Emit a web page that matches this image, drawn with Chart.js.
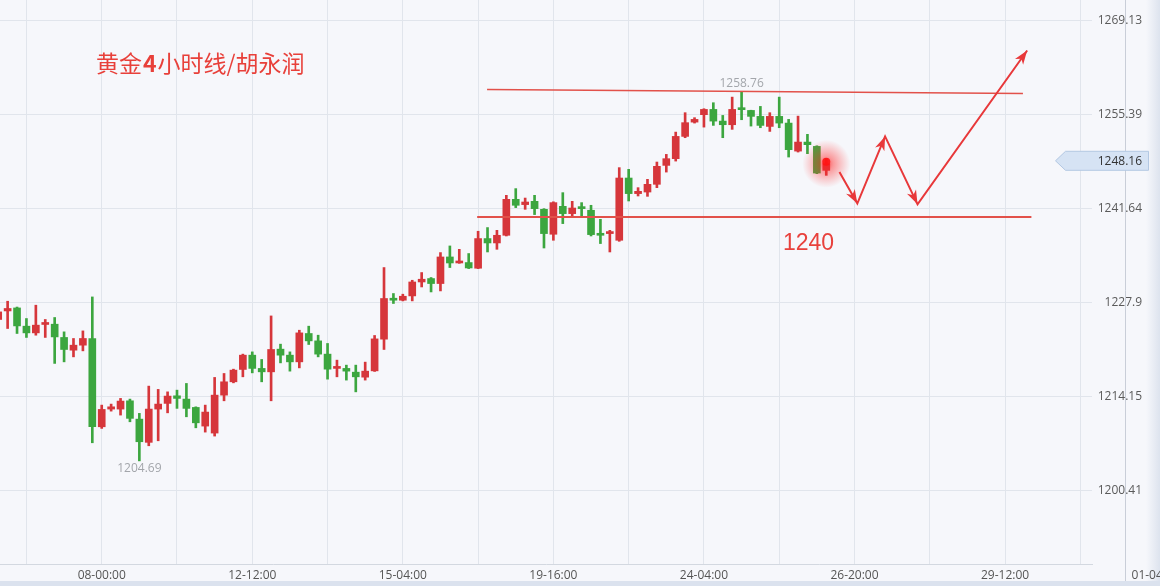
<!DOCTYPE html>
<html><head><meta charset="utf-8">
<script src="https://cdn.jsdelivr.net/npm/chart.js@4.4.1/dist/chart.umd.min.js"></script>
<style>html,body{margin:0;padding:0;background:#f6f7fb;overflow:hidden}canvas{display:block}</style>
</head><body>
<canvas id="c" width="1160" height="586"></canvas>
<script>
// ---- data (4H gold candles) ----
const openP  = [1225.38,1226.63,1227.07,1224.40,1223.42,1224.65,1224.69,1222.75,1220.89,1221.62,
                1222.60,1209.68,1212.27,1212.27,1213.48,1210.80,1207.40,1212.27,1213.10,1214.21,
                1213.73,1212.51,1209.78,1208.76,1214.31,1216.26,1218.07,1220.16,1218.22,1217.72,
                1221.04,1220.16,1219.18,1223.33,1222.25,1220.31,1218.22,1218.22,1217.67,1216.94,
                1217.86,1222.50,1228.49,1228.20,1228.83,1230.87,1231.37,1230.64,1234.53,1233.65,
                1233.71,1232.88,1237.22,1236.58,1237.70,1242.96,1242.19,1242.67,1241.50,1237.85,
                1241.94,1240.87,1241.84,1241.36,1237.95,1237.95,1236.97,1246.08,1243.80,1244.03,
                1245.16,1247.93,1248.91,1252.17,1254.26,1255.35,1256.12,1254.41,1253.88,1256.31,
                1255.97,1255.10,1253.63,1255.10,1254.12,1250.02,1251.34,1250.71,1247.20];
const highP  = [1227.32,1228.05,1227.20,1225.52,1227.47,1225.38,1225.67,1223.57,1222.60,1223.71,
                1228.68,1212.85,1213.00,1213.83,1213.73,1211.64,1215.63,1215.15,1214.79,1215.04,
                1216.02,1212.60,1212.85,1216.90,1217.48,1218.11,1220.31,1220.64,1219.53,1225.90,
                1221.77,1220.64,1223.81,1224.40,1223.08,1221.87,1219.43,1218.70,1218.70,1219.14,
                1223.04,1232.98,1229.18,1229.08,1231.12,1232.25,1231.52,1235.17,1236.14,1235.65,
                1235.03,1238.29,1238.83,1238.43,1243.55,1244.53,1243.15,1243.55,1241.60,1242.60,
                1243.94,1242.67,1242.48,1242.09,1240.04,1238.43,1247.60,1247.35,1244.67,1245.89,
                1248.42,1249.54,1252.80,1255.64,1254.91,1256.22,1257.10,1255.24,1257.92,1258.76,
                1256.00,1256.56,1255.64,1257.92,1254.66,1255.14,1252.47,1250.80,1248.90];
const lowP   = [1224.55,1224.06,1223.33,1222.75,1223.08,1222.75,1218.95,1219.18,1219.91,1220.79,
                1207.34,1209.44,1211.97,1211.39,1210.41,1204.69,1206.90,1207.63,1211.72,1212.37,
                1211.14,1209.53,1208.90,1208.32,1213.48,1216.11,1216.99,1217.57,1216.26,1213.48,
                1219.03,1217.82,1218.30,1221.72,1219.91,1216.65,1216.99,1216.51,1214.79,1216.51,
                1217.78,1220.99,1227.72,1228.10,1228.10,1230.14,1229.41,1229.56,1232.98,1233.60,
                1232.83,1232.83,1235.26,1235.65,1237.60,1241.75,1241.50,1240.73,1235.84,1236.97,
                1239.41,1240.48,1240.38,1237.60,1236.49,1235.26,1236.82,1242.72,1243.45,1243.40,
                1244.67,1246.95,1248.56,1251.98,1254.12,1253.53,1253.78,1251.98,1253.20,1254.61,
                1253.68,1253.44,1252.90,1253.44,1249.15,1249.88,1249.64,1246.72,1246.47];
const closeP = [1226.49,1226.99,1224.44,1223.42,1224.55,1224.88,1222.83,1220.99,1221.62,1222.60,
                1209.68,1212.22,1212.60,1213.44,1210.91,1207.49,1212.27,1213.00,1214.17,1213.83,
                1212.37,1210.26,1211.83,1214.31,1216.26,1217.97,1220.16,1218.22,1217.72,1220.99,
                1220.16,1219.18,1223.42,1222.25,1220.31,1218.11,1218.45,1217.82,1216.99,1217.82,
                1222.54,1228.45,1228.20,1228.78,1230.87,1231.27,1230.64,1234.53,1233.65,1233.90,
                1232.92,1237.22,1236.58,1237.70,1242.96,1242.09,1242.57,1241.60,1237.95,1242.48,
                1240.87,1241.69,1241.60,1237.80,1237.70,1238.18,1246.08,1243.80,1244.13,1245.16,
                1247.79,1248.91,1252.17,1254.18,1254.66,1256.12,1254.41,1253.88,1256.12,1256.08,
                1255.10,1253.78,1255.10,1254.12,1250.23,1251.34,1250.96,1246.81,1248.16];

// axis ticks
const gridIdx      = [3,11,19,27,35,43,51,59,67,75,83,91,99,107,115];
const labelIdx     = [11,27,43,59,75,91,107,123];
const xTickLabels  = ['08-00:00','12-12:00','15-04:00','19-16:00','24-04:00','26-20:00','29-12:00','01-04:00'];
const yTicks       = [1200.41,1214.15,1227.9,1241.64,1255.39,1269.13];

// drawn analysis (candle index, price)
const resX = [51.95,108.9],  resY = [1259.04,1258.46];
const supX = [50.9,109.8],   supY = [1240.38,1240.38];
const arrowX = [89.4,91.3,94.25,97.7,109.35];
const arrowY = [1246.96,1242.34,1252.17,1242.23,1264.74];
const titleParts = ['黄金','4','小时线/胡永润'];
const supportText = '1240';

// ---- styles ----
const UP = '#d6363b', DOWN = '#3ca63f', ANNO = '#e2514a', ARROW = '#e8383a';
Chart.defaults.font.family = '"Open Sans", "Liberation Sans", sans-serif';
Chart.defaults.font.size = 12;

const idx = openP.map((_, i) => i);
const colors = idx.map(i => closeP[i] >= openP[i] ? UP : DOWN);

const deco = {
  id: 'deco',
  beforeDraw(chart) {
    const {ctx, width, height} = chart;
    ctx.save();
    ctx.fillStyle = '#f6f7fb'; ctx.fillRect(0, 0, width, height);
    const g = ctx.createLinearGradient(1146, 0, 1160, 0);
    g.addColorStop(0, 'rgba(222,228,239,0)'); g.addColorStop(1, '#dde3ee');
    ctx.fillStyle = g; ctx.fillRect(1146, 0, 14, height);
    ctx.fillStyle = '#dbe2ee'; ctx.fillRect(0, 581, width, 5);
    ctx.restore();
  },
  afterDatasetsDraw(chart) {
    const {ctx, scales: {x, y}} = chart;
    ctx.save();
    // arrow heads at each vertex of the projected path
    ctx.fillStyle = ARROW;
    for (let k = 1; k < arrowX.length; k++) {
      const x1 = x.getPixelForValue(arrowX[k-1]), y1 = y.getPixelForValue(arrowY[k-1]);
      const x2 = x.getPixelForValue(arrowX[k]),   y2 = y.getPixelForValue(arrowY[k]);
      const a = Math.atan2(y2 - y1, x2 - x1);
      const L = 14, W = 5, N = 10;
      ctx.beginPath();
      ctx.moveTo(x2, y2);
      ctx.lineTo(x2 - L*Math.cos(a) + W*Math.sin(a), y2 - L*Math.sin(a) - W*Math.cos(a));
      ctx.lineTo(x2 - N*Math.cos(a), y2 - N*Math.sin(a));
      ctx.lineTo(x2 - L*Math.cos(a) - W*Math.sin(a), y2 - L*Math.sin(a) + W*Math.cos(a));
      ctx.closePath(); ctx.fill();
    }
    // glow on the last candle
    const li = idx.length - 1;
    const gx = x.getPixelForValue(li), gy = y.getPixelForValue(closeP[li]);
    const rg = ctx.createRadialGradient(gx, gy, 0, gx, gy, 24);
    rg.addColorStop(0, 'rgba(255,30,30,0.75)');
    rg.addColorStop(0.3, 'rgba(255,40,40,0.45)');
    rg.addColorStop(1, 'rgba(255,60,60,0)');
    ctx.fillStyle = rg; ctx.beginPath(); ctx.arc(gx, gy, 24, 0, Math.PI*2); ctx.fill();
    ctx.fillStyle = 'rgba(255,20,20,0.9)';
    ctx.beginPath(); ctx.arc(gx, gy - 2, 4, 0, Math.PI*2); ctx.fill();
    // high / low labels
    let hi = 0, lo = 0;
    idx.forEach(i => { if (highP[i] > highP[hi]) hi = i; if (lowP[i] < lowP[lo]) lo = i; });
    ctx.fillStyle = '#a3a6ab'; ctx.textAlign = 'center'; ctx.textBaseline = 'middle';
    ctx.font = '12px "Open Sans"';
    ctx.fillText(highP[hi].toFixed(2), x.getPixelForValue(hi), y.getPixelForValue(highP[hi]) - 8);
    ctx.fillText(lowP[lo].toFixed(2), x.getPixelForValue(lo), y.getPixelForValue(lowP[lo]) + 8);
    ctx.restore();
  },
  afterDraw(chart) {
    const {ctx, scales: {x, y}, chartArea} = chart;
    ctx.save();
    // separator line on the axis side
    ctx.strokeStyle = '#c9ced8'; ctx.lineWidth = 1;
    ctx.beginPath(); ctx.moveTo(1125.5, 0); ctx.lineTo(1125.5, 581); ctx.stroke();
    // last x label (cut by the edge)
    ctx.fillStyle = '#555'; ctx.font = '12px "Open Sans"'; ctx.textAlign = 'center'; ctx.textBaseline = 'middle';
    const lastK = labelIdx.length - 1;
    ctx.fillText(xTickLabels[lastK], x.getPixelForValue(labelIdx[lastK]), chartArea.bottom + 4 + 7.2);
    // price tag
    const li = idx.length - 1;
    const ty = y.getPixelForValue(closeP[li]) - 3;
    ctx.beginPath();
    ctx.moveTo(1055.5, ty); ctx.lineTo(1065.5, ty - 9.5); ctx.lineTo(1148.5, ty - 9.5);
    ctx.lineTo(1148.5, ty + 9.5); ctx.lineTo(1065.5, ty + 9.5); ctx.closePath();
    ctx.fillStyle = '#d6e3f4'; ctx.fill(); ctx.strokeStyle = '#b3c8e3'; ctx.stroke();
    ctx.fillStyle = '#333'; ctx.textAlign = 'right'; ctx.textBaseline = 'middle';
    ctx.fillText(closeP[li].toFixed(2), 1142, ty + 1);
    // title
    ctx.fillStyle = '#e8403a'; ctx.textAlign = 'left'; ctx.textBaseline = 'alphabetic';
    let tx = 96;
    titleParts.forEach((t, k) => {
      ctx.font = (k === 1 ? 'bold ' : '') + '23px "Noto Sans CJK SC"';
      ctx.fillText(t, tx, 72);
      tx += ctx.measureText(t).width + 1;
    });
    // support label
    ctx.font = '23px "Liberation Sans"';
    ctx.fillStyle = '#e8413c';
    ctx.fillText(supportText, x.getPixelForValue(83.4), y.getPixelForValue(supY[0]) + 33);
    ctx.restore();
  }
};

new Chart(document.getElementById('c'), {
  data: {
    datasets: [
      { type: 'line', data: arrowX.map((v, k) => ({x: v, y: arrowY[k]})), borderColor: ARROW, borderWidth: 2,
        pointRadius: 0, fill: false, tension: 0, order: 1 },
      { type: 'line', data: resX.map((v, k) => ({x: v, y: resY[k]})), borderColor: ANNO, borderWidth: 1.5,
        pointRadius: 0, fill: false, tension: 0, order: 1 },
      { type: 'line', data: supX.map((v, k) => ({x: v, y: supY[k]})), borderColor: ANNO, borderWidth: 2,
        pointRadius: 0, fill: false, tension: 0, order: 1 },
      { type: 'bar', data: idx.map(i => ({x: i, y: [Math.min(openP[i], closeP[i]), Math.max(openP[i], closeP[i])]})),
        backgroundColor: colors, barThickness: 7, minBarLength: 2, grouped: false, order: 3 },
      { type: 'bar', data: idx.map(i => ({x: i, y: [lowP[i], highP[i]]})),
        backgroundColor: colors, barThickness: 2, grouped: false, order: 4 }
    ]
  },
  options: {
    responsive: false, animation: false, devicePixelRatio: 1,
    layout: { autoPadding: false, padding: { top: 0, right: 18, bottom: 3, left: 0 } },
    plugins: { legend: { display: false }, tooltip: { enabled: false } },
    scales: {
      x: {
        type: 'linear', min: 0.19, max: 116.24, offset: false,
        afterBuildTicks: s => { s.ticks = gridIdx.map(v => ({value: v})); },
        afterFit: s => { s.height = 19; s.paddingLeft = 0; s.paddingRight = 0; },
        grid: { color: '#e1e5ec', drawTicks: false, offset: false },
        border: { display: true, color: '#d3d8e0' },
        ticks: {
          autoSkip: false, maxRotation: 0, padding: 4, color: '#555',
          callback: v => { const k = labelIdx.indexOf(v); return k >= 0 ? xTickLabels[k] : ''; }
        }
      },
      y: {
        position: 'right', min: 1189.60, max: 1272.13,
        afterBuildTicks: s => { s.ticks = yTicks.map(v => ({value: v})); },
        afterFit: s => { s.width = 50; s.paddingTop = 0; s.paddingBottom = 0; },
        grid: { color: '#e1e5ec', drawTicks: false },
        border: { display: false },
        ticks: { padding: 6, crossAlign: 'far', color: '#5a5a5a', callback: v => String(v) }
      }
    }
  },
  plugins: [deco]
});
</script>
</body></html>
